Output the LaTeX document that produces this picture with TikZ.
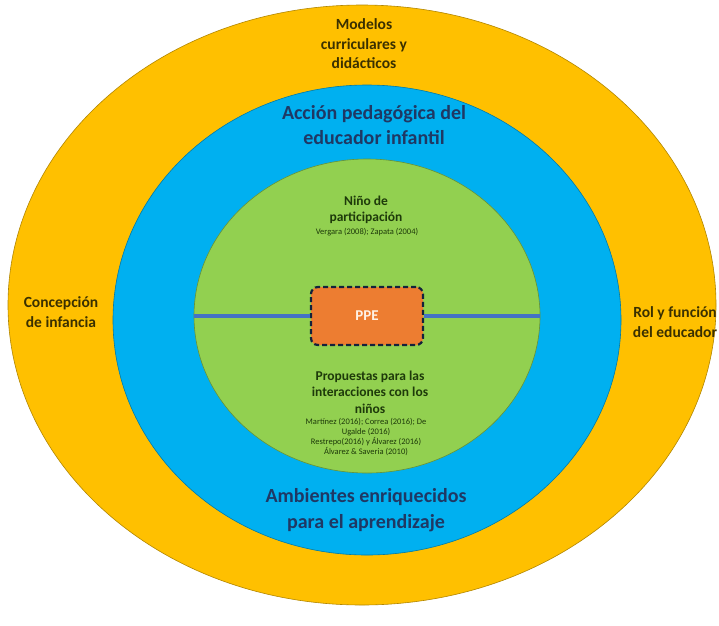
\documentclass[tikz,border=0pt]{standalone}
\usepackage{fontspec}
\setmainfont{Carlito}
\definecolor{ylw}{HTML}{FFC000}
\definecolor{blu}{HTML}{00B0F0}
\definecolor{grn}{HTML}{92D050}
\definecolor{org}{HTML}{ED7D31}
\definecolor{lin}{HTML}{4472C4}
\definecolor{dkb}{HTML}{1F3864}
\definecolor{dky}{HTML}{3A3000}
\definecolor{dkg}{HTML}{1E3A0A}
\tikzset{
  ring/.style={ellipse, draw=#1!70!black, line width=0.6pt, fill=#1, inner sep=0pt},
  ylab/.style={font=\bfseries\fontsize{15.5}{19.5}\selectfont, text=dky, align=center},
  blab/.style={font=\bfseries\fontsize{20}{25.5}\selectfont, text=dkb, align=center},
  glab/.style={font=\bfseries\fontsize{13.5}{16.5}\selectfont, text=dkg, align=center},
  cite/.style={font=\fontsize{8.5}{10}\selectfont, text=dkg, align=center},
}
\usetikzlibrary{shapes.geometric}
\begin{document}
\begin{tikzpicture}[x=1pt,y=-1pt]
\useasboundingbox (0,0) rectangle (719,625);
\fill[white] (0,0) rectangle (719,625);
\node[ring=ylw, minimum width=708, minimum height=600] (outer) at (362,305) {};
\node[ring=blu, minimum width=508, minimum height=470] (mid) at (367,320) {};
\node[ring=grn, minimum width=346, minimum height=314] (inner) at (367,316) {};
\node[draw=dkb!60!black, line width=2.2pt, dash pattern=on 5pt off 3pt, fill=org, rounded corners=7pt, minimum width=112, minimum height=58, font=\bfseries\fontsize{15}{17}\selectfont, text=white!90!orange] (ppe) at (367,316) {PPE};
\draw[lin, line width=3.5pt] (inner.west) -- (ppe.west);
\draw[lin, line width=3.5pt] (ppe.east) -- (inner.east);
\node[ylab] (modelos) at (364,44) {Modelos\\curriculares y\\didácticos};
\node[ylab] (concep) at (61,312) {Concepción\\de infancia};
\node[ylab] (rol) at (675,322) {Rol y función\\del educador};
\node[blab] (accion) at (374,125) {Acción pedagógica del\\educador infantil};
\node[blab] (ambientes) at (366,510) {Ambientes enriquecidos\\para el aprendizaje};
\node[glab] (nino) at (366,210) {Niño de\\participación};
\node[cite] (cite1) at (367,232) {Vergara (2008); Zapata (2004)};
\node[glab] (prop) at (370,392) {Propuestas para las\\interacciones con los\\niños};
\node[cite] (cite2) at (366,437) {Martínez (2016); Correa (2016); De\\Ugalde (2016)\\Restrepo(2016) y Álvarez (2016)\\Álvarez \& Saveria (2010)};
\end{tikzpicture}
\end{document}
